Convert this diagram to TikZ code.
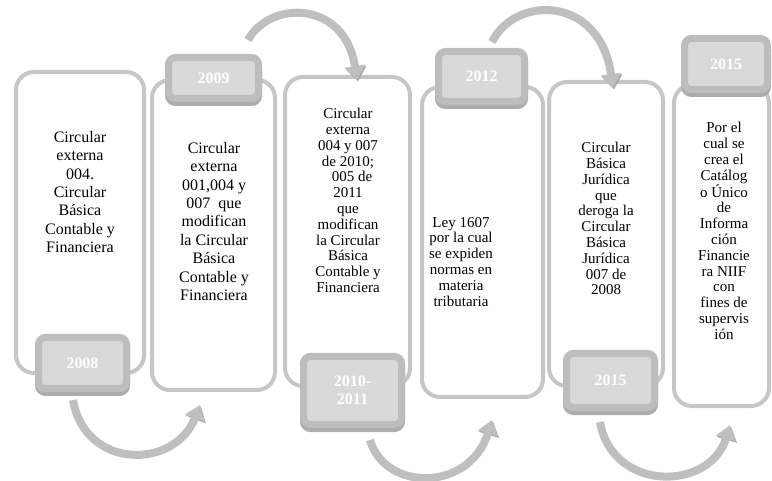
\documentclass[tikz,border=0pt]{standalone}
\usepackage{fontspec}
\setmainfont{Liberation Serif}
\usetikzlibrary{arrows.meta}

\tikzset{
  panel/.style={draw=gray!45, line width=4pt, fill=white, rounded corners=18pt, inner sep=0pt},
  yearbox/.style={draw=gray!52, line width=7pt, fill=gray!30, rounded corners=7pt, inner sep=0pt,
    text=white, align=center, font=\fontsize{16}{18}\selectfont\bfseries,
    preaction={draw=gray!64, fill=gray!64, transform canvas={yshift=-4pt}}},
  bodytext/.style={align=center, inner sep=0pt, anchor=north, font=\fontsize{15}{15.8}\selectfont},
  bigtext/.style={bodytext, font=\fontsize{16}{18.4}\selectfont},
  turn/.style={draw=gray!50, line width=8pt, -{Triangle[width=20pt,length=14pt]},
    preaction={draw=gray!70, transform canvas={xshift=1pt,yshift=-1.5pt}}}
}

\begin{document}
\begin{tikzpicture}[x=1pt,y=-1pt]
\useasboundingbox (0,0) rectangle (772,481);
%\draw[step=50,gray,very thin] (0,0) grid (772,481); %background grid

% panels
\node[panel, minimum width=128, minimum height=301] (p1) at (80,222.5) {};
\node[panel, minimum width=123, minimum height=310] (p2) at (213.5,235) {};
\node[panel, minimum width=125, minimum height=309] (p3) at (347.5,231.5) {};
\node[panel, minimum width=121, minimum height=310] (p4) at (482.5,242) {};
\node[panel, minimum width=114, minimum height=304] (p5) at (606,234) {};
\node[panel, minimum width=95, minimum height=321] (p6) at (721.5,245.5) {};

% texts
\node[bigtext] (t1) at (80,131) {Circular\\externa\\004.\\Circular\\Básica\\Contable y\\Financiera};
\node[bigtext] (t2) at (214,142) {Circular\\externa\\001,004 y\\007\ \ que\\modifican\\la Circular\\Básica\\Contable y\\Financiera};
\node[bodytext] (t3) at (348,108) {Circular\\externa\\004 y 007\hspace{8pt}\\de 2010;\hspace{12pt}\\\hspace{8pt}005 de\\2011\hspace{28pt}\\que\\modifican\\la Circular\\Básica\\Contable y\\Financiera};
\node[bodytext] (t4) at (461,217) {Ley 1607\\por la cual\\se expiden\\normas en\\materia\\tributaria};
\node[bodytext] (t5) at (606,142) {Circular\\Básica\\Jurídica\\que\\deroga la\\Circular\\Básica\\Jurídica\\007 de\\2008};
\node[bodytext] (t6) at (724,122) {Por el\\cual se\\crea el\\Catálog\\o Único\\de\\Informa\\ción\\Financie\\ra NIIF\\con\\fines de\\supervis\\ión};

% years
\node[yearbox, minimum width=88, minimum height=51] (y1) at (82.5,363) {2008};
\node[yearbox, minimum width=90, minimum height=41] (y2) at (213.5,78) {2009};
\node[yearbox, minimum width=98, minimum height=68] (y3) at (352.5,390.5) {2010-\\2011};
\node[yearbox, minimum width=86, minimum height=50] (y4) at (481.5,76.5) {2012};
\node[yearbox, minimum width=88, minimum height=54] (y5) at (610.5,380.5) {2015};
\node[yearbox, minimum width=83, minimum height=51] (y6) at (726,64) {2015};

% arrows
\coordinate (a1s) at (73,400);  \coordinate (a1e) at (200,405);
\coordinate (a2s) at (248,40);  \coordinate (a2e) at (357,80);
\coordinate (a3s) at (370,440); \coordinate (a3e) at (492,420);
\coordinate (a4s) at (492,42);  \coordinate (a4e) at (613,88);
\coordinate (a5s) at (600,422); \coordinate (a5e) at (730,425);
\draw[turn] (a1s) .. controls (85,470) and (175,470) .. (a1e);
\draw[turn] (a2s) .. controls (270,0) and (345,0) .. (a2e);
\draw[turn] (a3s) .. controls (385,492) and (470,492) .. (a3e);
\draw[turn] (a4s) .. controls (515,-5) and (600,-5) .. (a4e);
\draw[turn] (a5s) .. controls (612,492) and (710,492) .. (a5e);

\end{tikzpicture}
\end{document}
